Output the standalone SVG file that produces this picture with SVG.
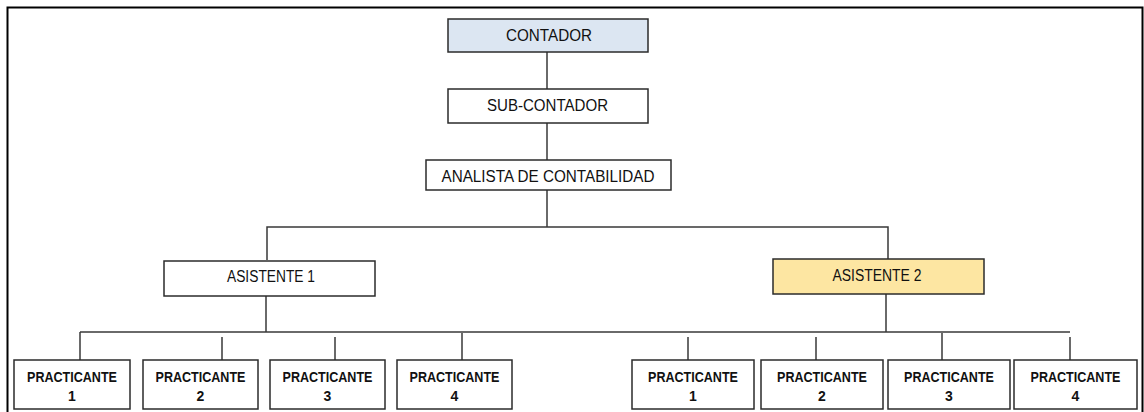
<svg xmlns="http://www.w3.org/2000/svg" width="1144" height="412" viewBox="0 0 1144 412">
<style>
.box{fill:#ffffff;stroke:#2b2b2b;stroke-width:1.5}
.blue{fill:#dce6f2}
.yellow{fill:#fde6a2}
.lbl{font-family:"Liberation Sans",Arial,sans-serif;font-size:16px;fill:#111111;text-anchor:middle}
.pr{font-family:"Liberation Sans",Arial,sans-serif;font-size:14px;font-weight:bold;fill:#111111;text-anchor:middle}
.ln{stroke:#383838;stroke-width:1.5;fill:none}
</style>
<rect x="0" y="0" width="1144" height="412" fill="#ffffff"/>
<rect x="7.5" y="7.5" width="1135" height="420" fill="none" stroke="#000" stroke-width="2"/>
<g id="connectors">
<line class="ln" x1="547" y1="52" x2="547" y2="89"/>
<line class="ln" x1="547" y1="123" x2="547" y2="160"/>
<line class="ln" x1="547" y1="190" x2="547" y2="227"/>
<polyline class="ln" points="267,260 267,227 888,227 888,259"/>
<line class="ln" x1="266" y1="296" x2="266" y2="332"/>
<line class="ln" x1="886" y1="294" x2="886" y2="332"/>
<line class="ln" x1="80" y1="332" x2="1070" y2="332"/>
<line class="ln" x1="80" y1="332" x2="80" y2="360"/>
<line class="ln" x1="222" y1="337" x2="222" y2="360"/>
<line class="ln" x1="335" y1="337" x2="335" y2="360"/>
<line class="ln" x1="462" y1="333" x2="462" y2="360"/>
<line class="ln" x1="688" y1="337" x2="688" y2="360"/>
<line class="ln" x1="816" y1="337" x2="816" y2="360"/>
<line class="ln" x1="942" y1="333" x2="942" y2="360"/>
<line class="ln" x1="1070" y1="337" x2="1070" y2="360"/>
</g>
<g id="contador"><rect class="box blue" x="448" y="19" width="200" height="33"/><text class="lbl" x="549" y="41" textLength="86" lengthAdjust="spacingAndGlyphs">CONTADOR</text></g>
<g id="subcontador"><rect class="box" x="448" y="89" width="200" height="34"/><text class="lbl" x="547.5" y="111" textLength="121" lengthAdjust="spacingAndGlyphs">SUB-CONTADOR</text></g>
<g id="analista"><rect class="box" x="426" y="160" width="245" height="30"/><text class="lbl" x="548" y="182" textLength="213" lengthAdjust="spacingAndGlyphs">ANALISTA DE CONTABILIDAD</text></g>
<g id="asistente1"><rect class="box" x="164" y="261" width="211" height="35"/><text class="lbl" x="271" y="282" textLength="88" lengthAdjust="spacingAndGlyphs">ASISTENTE 1</text></g>
<g id="asistente2"><rect class="box yellow" x="773" y="259" width="211" height="35"/><text class="lbl" x="877" y="281" textLength="89" lengthAdjust="spacingAndGlyphs">ASISTENTE 2</text></g>
<g id="p1a"><rect class="box" x="14" y="360" width="116" height="49"/><text class="pr" x="72" y="382" textLength="90" lengthAdjust="spacingAndGlyphs">PRACTICANTE</text><text class="pr" x="72" y="401">1</text></g>
<g id="p2a"><rect class="box" x="143" y="360" width="115" height="49"/><text class="pr" x="200.5" y="382" textLength="90" lengthAdjust="spacingAndGlyphs">PRACTICANTE</text><text class="pr" x="200.5" y="401">2</text></g>
<g id="p3a"><rect class="box" x="270" y="360" width="115" height="49"/><text class="pr" x="327.5" y="382" textLength="90" lengthAdjust="spacingAndGlyphs">PRACTICANTE</text><text class="pr" x="327.5" y="401">3</text></g>
<g id="p4a"><rect class="box" x="397" y="360" width="115" height="49"/><text class="pr" x="454.5" y="382" textLength="90" lengthAdjust="spacingAndGlyphs">PRACTICANTE</text><text class="pr" x="454.5" y="401">4</text></g>
<g id="p1b"><rect class="box" x="632" y="360" width="122" height="49"/><text class="pr" x="693" y="382" textLength="90" lengthAdjust="spacingAndGlyphs">PRACTICANTE</text><text class="pr" x="693" y="401">1</text></g>
<g id="p2b"><rect class="box" x="761" y="360" width="122" height="49"/><text class="pr" x="822" y="382" textLength="90" lengthAdjust="spacingAndGlyphs">PRACTICANTE</text><text class="pr" x="822" y="401">2</text></g>
<g id="p3b"><rect class="box" x="888" y="360" width="122" height="49"/><text class="pr" x="949" y="382" textLength="90" lengthAdjust="spacingAndGlyphs">PRACTICANTE</text><text class="pr" x="949" y="401">3</text></g>
<g id="p4b"><rect class="box" x="1014" y="360" width="123" height="49"/><text class="pr" x="1075.5" y="382" textLength="90" lengthAdjust="spacingAndGlyphs">PRACTICANTE</text><text class="pr" x="1075.5" y="401">4</text></g>
</svg>
